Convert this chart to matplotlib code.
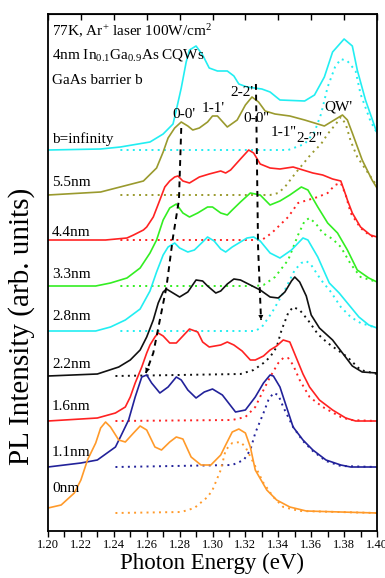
import matplotlib
matplotlib.use("Agg")
import matplotlib.pyplot as plt
import numpy as np

plt.rcParams['font.family'] = ['Liberation Serif', 'DejaVu Serif']
plt.rcParams['mathtext.fontset'] = 'custom'
plt.rcParams['mathtext.rm'] = 'Liberation Serif'
plt.rcParams['mathtext.it'] = 'Liberation Serif:italic'

# --- PL spectra: energy (eV) and intensity above each trace's baseline ---
e_inf = [1.200, 1.232, 1.244, 1.262, 1.270, 1.276, 1.278, 1.281, 1.284, 1.286, 1.290, 1.294, 1.298, 1.303,
         1.309, 1.313, 1.316, 1.321, 1.330, 1.335, 1.341, 1.356, 1.362, 1.368, 1.373, 1.380, 1.385, 1.388, 1.393, 1.400]
i_inf = [0, 1, 3, 8, 16, 26, 40, 62, 88, 100, 104, 95, 82, 79, 79, 74, 66, 63, 61, 58, 50, 49, 55, 73, 98,
         111, 104, 80, 50, 17]
e_inf_qw = [1.244, 1.346, 1.356, 1.362, 1.366, 1.370, 1.3745, 1.378, 1.382, 1.387, 1.390, 1.396, 1.400]
i_inf_qw = [0, 0, 6, 18, 36, 63, 83, 91, 89, 79, 56, 29, 17]

e_55 = [1.200, 1.232, 1.258, 1.266, 1.270, 1.273, 1.277, 1.281, 1.285, 1.288, 1.292, 1.297, 1.300, 1.303, 1.309,
        1.315, 1.320, 1.324, 1.328, 1.332, 1.338, 1.347, 1.356, 1.364, 1.368, 1.373, 1.379, 1.382, 1.385, 1.391,
        1.397, 1.400]
i_55 = [0, 3, 14, 27, 43, 57, 67, 73, 69, 65, 67, 73, 79, 79, 68, 75, 90, 98, 93, 84, 81, 79, 75, 71, 69, 74,
        80, 75, 62, 35, 15, 7]
e_55_qw = [1.244, 1.335, 1.340, 1.344, 1.351, 1.360, 1.366, 1.370, 1.375, 1.378, 1.381, 1.384, 1.388, 1.395, 1.400]
i_55_qw = [0, 0, 2, 8, 23, 41, 51, 61, 71, 78, 71, 54, 38, 21, 9]

e_44 = [1.200, 1.235, 1.248, 1.252, 1.258, 1.260, 1.264, 1.268, 1.271, 1.274, 1.277, 1.279, 1.282, 1.286, 1.292,
        1.298, 1.305, 1.308, 1.311, 1.317, 1.322, 1.325, 1.329, 1.335, 1.341, 1.349, 1.355, 1.361, 1.367, 1.373,
        1.378, 1.381, 1.382, 1.385, 1.390, 1.396, 1.400]
i_44 = [0, 0, 2, 5, 10, 13, 23, 40, 53, 59, 63, 64, 59, 57, 63, 66, 69, 67, 70, 81, 90, 87, 76, 72, 71, 73, 70,
        67, 65, 61, 59, 45, 40, 27, 13, 5, 3]
e_44_qw = [1.244, 1.330, 1.336, 1.346, 1.352, 1.358, 1.364, 1.370, 1.3745, 1.378, 1.381, 1.384, 1.390, 1.396, 1.400]
i_44_qw = [0, 0, 7, 23, 37, 40, 43, 47, 55, 57, 45, 27, 12, 4, 3]

e_33 = [1.200, 1.229, 1.238, 1.248, 1.256, 1.262, 1.266, 1.270, 1.274, 1.278, 1.282, 1.286, 1.291, 1.297, 1.300,
        1.305, 1.309, 1.312, 1.317, 1.323, 1.329, 1.335, 1.341, 1.347, 1.354, 1.358, 1.364, 1.370, 1.376, 1.382,
        1.388, 1.395, 1.400]
i_33 = [0, 0, 3, 8, 18, 33, 46, 66, 78, 82, 73, 69, 73, 79, 79, 73, 71, 76, 84, 93, 91, 81, 85, 91, 99, 96, 79,
        63, 53, 36, 16, 8, 4]
e_33_qw = [1.244, 1.326, 1.331, 1.338, 1.346, 1.352, 1.356, 1.359, 1.363, 1.367, 1.373, 1.378, 1.384, 1.390,
           1.396, 1.400]
i_33_qw = [0, 0, 1, 9, 26, 51, 65, 68, 62, 53, 47, 39, 22, 9, 6, 4]

e_28 = [1.200, 1.229, 1.238, 1.247, 1.256, 1.262, 1.266, 1.270, 1.273, 1.277, 1.280, 1.285, 1.289, 1.294, 1.297,
        1.301, 1.305, 1.308, 1.312, 1.316, 1.321, 1.325, 1.329, 1.335, 1.341, 1.348, 1.355, 1.358, 1.364, 1.371,
        1.377, 1.383, 1.389, 1.395, 1.400]
i_28 = [0, 0, 4, 11, 22, 40, 59, 76, 84, 88, 83, 79, 81, 89, 94, 90, 82, 79, 84, 88, 93, 94, 90, 78, 73, 81, 93,
        91, 74, 48, 38, 26, 14, 6, 3]
e_28_qw = [1.244, 1.326, 1.330, 1.336, 1.344, 1.350, 1.354, 1.357, 1.360, 1.366, 1.372, 1.378, 1.384, 1.390, 1.400]
i_28_qw = [0, 0, 4, 18, 41, 61, 68, 70, 66, 51, 39, 24, 14, 8, 3]

e_22 = [1.200, 1.230, 1.243, 1.250, 1.256, 1.260, 1.264, 1.267, 1.270, 1.272, 1.276, 1.280, 1.285, 1.290, 1.294,
        1.297, 1.302, 1.305, 1.309, 1.313, 1.317, 1.323, 1.329, 1.335, 1.340, 1.344, 1.348, 1.350, 1.353, 1.357,
        1.360, 1.365, 1.369, 1.373, 1.379, 1.385, 1.391, 1.400]
i_22 = [0, 2, 9, 16, 26, 39, 56, 73, 84, 87, 83, 79, 84, 96, 95, 90, 83, 85, 92, 97, 96, 91, 86, 79, 78, 84, 95,
        99, 94, 80, 61, 48, 42, 36, 23, 10, 4, 3]
e_22_qw = [1.241, 1.317, 1.325, 1.331, 1.335, 1.339, 1.342, 1.346, 1.349, 1.353, 1.358, 1.364, 1.370, 1.376,
           1.382, 1.390, 1.400]
i_22_qw = [0, 2, 6, 13, 19, 29, 46, 63, 69, 66, 56, 42, 33, 26, 19, 6, 2]

e_16 = [1.200, 1.230, 1.241, 1.247, 1.250, 1.253, 1.257, 1.260, 1.262, 1.265, 1.267, 1.270, 1.274, 1.278, 1.282,
        1.286, 1.291, 1.294, 1.298, 1.305, 1.309, 1.313, 1.318, 1.323, 1.326, 1.331, 1.335, 1.339, 1.343, 1.347,
        1.351, 1.355, 1.359, 1.365, 1.373, 1.381, 1.387, 1.400]
i_16 = [0, 3, 8, 14, 24, 38, 54, 68, 76, 84, 88, 85, 78, 78, 85, 92, 89, 79, 74, 76, 79, 76, 70, 61, 61, 65, 71,
        75, 81, 79, 63, 47, 34, 21, 11, 3, 0, 0]
e_16_qw = [1.241, 1.312, 1.320, 1.326, 1.331, 1.335, 1.340, 1.343, 1.346, 1.349, 1.353, 1.359, 1.367, 1.378,
           1.384, 1.400]
i_16_qw = [0, 1, 4, 14, 31, 44, 58, 63, 63, 56, 41, 24, 14, 4, 1, 0]

e_11 = [1.200, 1.220, 1.230, 1.241, 1.244, 1.249, 1.253, 1.257, 1.260, 1.263, 1.268, 1.273, 1.278, 1.281, 1.285,
        1.290, 1.295, 1.300, 1.306, 1.314, 1.320, 1.326, 1.331, 1.335, 1.337, 1.341, 1.345, 1.349, 1.355, 1.361,
        1.369, 1.378, 1.384, 1.400]
i_11 = [0, 4, 7, 20, 30, 47, 70, 90, 92, 84, 74, 80, 90, 87, 77, 69, 75, 78, 72, 55, 57, 70, 84, 92, 91, 80, 60,
        40, 27, 17, 7, 2, 0, 0]
e_11_qw = [1.241, 1.312, 1.319, 1.323, 1.326, 1.331, 1.334, 1.337, 1.340, 1.343, 1.349, 1.355, 1.361, 1.369,
           1.378, 1.400]
i_11_qw = [0, 2, 7, 17, 34, 54, 67, 74, 72, 60, 40, 26, 16, 6, 1, 0]

e_0 = [1.200, 1.208, 1.216, 1.220, 1.224, 1.229, 1.232, 1.235, 1.238, 1.243, 1.247, 1.252, 1.256, 1.260, 1.265,
       1.269, 1.274, 1.278, 1.282, 1.287, 1.293, 1.299, 1.305, 1.308, 1.312, 1.316, 1.320, 1.323, 1.326, 1.333,
       1.339, 1.347, 1.357, 1.378, 1.400]
i_0 = [5, 8, 20, 33, 53, 70, 85, 91, 86, 73, 71, 80, 87, 83, 66, 63, 71, 76, 74, 56, 48, 48, 58, 68, 81, 84, 80,
       66, 43, 23, 13, 6, 2, 1, 0]
e_0_qw = [1.241, 1.281, 1.289, 1.297, 1.300, 1.305, 1.308, 1.312, 1.317, 1.320, 1.325, 1.331, 1.337, 1.343,
          1.353, 1.400]
i_0_qw = [0, 1, 5, 16, 23, 43, 63, 70, 71, 66, 50, 30, 16, 6, 2, 0]

labels = ['b=infinity', '5.5nm', '4.4nm', '3.3nm', '2.8nm', '2.2nm', '1.6nm', '1.1nm', '0nm']
offsets = [381, 336, 291, 245, 200, 155, 110, 64, 18]
label_y = [392, 348, 299, 256, 214, 167, 124, 78, 43]
colors = ['#22eef2', '#9a9a2e', '#ff2222', '#33ee22', '#22eef2', '#111111', '#ff2222', '#22229a', '#ff9a2a']
solid = [(e_inf, i_inf), (e_55, i_55), (e_44, i_44), (e_33, i_33), (e_28, i_28),
         (e_22, i_22), (e_16, i_16), (e_11, i_11), (e_0, i_0)]
dotted = [(e_inf_qw, i_inf_qw), (e_55_qw, i_55_qw), (e_44_qw, i_44_qw), (e_33_qw, i_33_qw),
          (e_28_qw, i_28_qw), (e_22_qw, i_22_qw), (e_16_qw, i_16_qw), (e_11_qw, i_11_qw), (e_0_qw, i_0_qw)]

# transition labels and the dashed guides following the peak shifts
peak_text = ["0-0'", "1-1'", "2-2'", "0-0''", "1-1''", "2-2''", "QW'"]
peak_e = [1.2827, 1.3003, 1.318, 1.3264, 1.3435, 1.3587, 1.3763]
peak_y = [416, 423, 439, 413, 399, 393, 424]
guide1_e = [1.281, 1.2796, 1.276, 1.272, 1.268, 1.264, 1.2595]
guide1_y = [403, 331, 294, 244, 211, 178, 158]
guide2_e = [1.3264, 1.3277, 1.3295]
guide2_y = [447, 284, 211]

fig = plt.figure(figsize=(3.85, 5.78), dpi=100)
ax = fig.add_axes([48 / 385, 47 / 578, 329 / 385, 517 / 578])

for (e, i), (eq, iq), off, c in zip(solid, dotted, offsets, colors):
    ax.plot(e, np.array(i) + off, color=c, lw=1.2)
    ax.plot(eq, np.array(iq) + off, color=c, lw=1.4, ls=(0, (1, 2.2)))

for lab, y in zip(labels, label_y):
    ax.text(1.2025, y, lab, fontsize=11, va='center', ha='left')

for t, x, y in zip(peak_text, peak_e, peak_y):
    ax.text(x, y, t, fontsize=11, va='center', ha='center')

for ge, gy in [(guide1_e, guide1_y), (guide2_e, guide2_y)]:
    ax.plot(ge, gy, color='k', lw=1.4, ls=(0, (3, 2.5)))
    ax.annotate('', xy=(ge[-1], gy[-1]), xytext=(ge[-2], gy[-2]),
                arrowprops=dict(arrowstyle='-|>', color='k', lw=0, mutation_scale=9, shrinkA=0, shrinkB=0))

ax.text(1.2025, 500, '77K, Ar$^{+}$ laser 100W/cm$^{2}$', fontsize=11, va='center')
ax.text(1.2025, 476, '4nm In$_{0.1}$Ga$_{0.9}$As CQWs', fontsize=11, va='center')
ax.text(1.2025, 451, 'GaAs barrier b', fontsize=11, va='center')

ax.set_xlim(1.20, 1.40)
ax.set_ylim(0, 517)
ax.set_xticks(np.arange(1.20, 1.401, 0.02))
ax.set_xticks(np.arange(1.21, 1.40, 0.02), minor=True)
ax.set_xticklabels([f'{v:.2f}' for v in np.arange(1.20, 1.401, 0.02)], fontsize=9)
ax.tick_params(axis='x', which='both', direction='out', length=4, width=1, pad=2)
ax.set_yticks([])
for s in ax.spines.values():
    s.set_linewidth(1.3)

# inward ticks along the top edge
top = ax.secondary_xaxis('top')
top.set_xticks(np.arange(1.20, 1.401, 0.02))
top.tick_params(direction='in', length=4, width=1, labeltop=False)

ax.set_xlabel('Photon Energy (eV)', fontsize=16.5, labelpad=1)
fig.text(22 / 385, 1 - 326 / 578, 'PL Intensity (arb. units)', fontsize=21, rotation=90,
         va='center', ha='center')

fig.savefig('out.png', dpi=100)
